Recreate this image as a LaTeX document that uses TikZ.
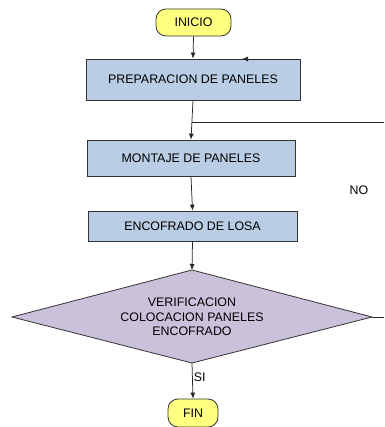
\documentclass[tikz,border=0pt]{standalone}
\usepackage{fontspec}
\setmainfont{Liberation Sans}
\usetikzlibrary{arrows.meta,shapes.geometric}
\definecolor{boxfill}{HTML}{B9CDE5}
\definecolor{diafill}{HTML}{CCC1DA}
\definecolor{termfill}{HTML}{FFFF80}
\definecolor{edge}{HTML}{333333}
\begin{document}
\begin{tikzpicture}[x=1pt,y=-1pt,
  every node/.style={font=\fontsize{12.4}{14.5}\selectfont, text=black, inner sep=0pt},
  term/.style={draw=edge, line width=0.8pt, fill=termfill, rounded corners=10pt, minimum height=27pt},
  procbox/.style={draw=edge, line width=0.8pt, fill=boxfill},
  decis/.style={draw=edge, line width=0.8pt, fill=diafill},
  conn/.style={draw=black!85, line width=0.75pt},
  arr/.style={conn, -{Latex[length=6pt,width=5pt]}}]
\useasboundingbox (0,0) rectangle (384,427);
\node[term, minimum width=75pt] (inicio) at (193.5,22.5) {INICIO};
\node[procbox, minimum width=214pt, minimum height=41pt] (prep) at (193,79.5) {PREPARACION DE PANELES};
\node[procbox, minimum width=208pt, minimum height=36pt] (mont) at (191,158) {MONTAJE DE PANELES};
\node[procbox, minimum width=209pt, minimum height=30pt] (enc) at (192.5,226) {ENCOFRADO DE LOSA};
\coordinate (vtop) at (192,270);
\coordinate (vright) at (372,317);
\coordinate (vbot) at (192,363);
\coordinate (vleft) at (12,317);
\draw[decis] (vtop) -- (vright) -- (vbot) -- (vleft) -- cycle;
\node[align=center] (ver) at (192,317) {VERIFICACION\\COLOCACION PANELES\\ENCOFRADO};
\node[term, minimum width=50pt, minimum height=28pt] (fin) at (193,413) {FIN};
\node[anchor=center] (no) at (359,190) {NO};
\coordinate (j) at (192,122);
\coordinate (noback) at (384,122);
\coordinate (noout) at (384,317);
\coordinate (topin) at (300,59);
\coordinate (topend) at (242,59);
\draw[arr] (inicio.south) -- (prep.north);
\draw[arr] (prep.south) -- (mont.north);
\draw[conn] (noback) -- (j);
\draw[arr] (topin) -- (topend);
\draw[arr] (mont.south) -- (enc.north);
\draw[arr] (enc.south) -- (vtop);
\draw[conn] (vright) -- (noout);
\draw[arr] (vbot) -- node[pos=0.4, right=1pt] (si) {SI} (fin.north);
\end{tikzpicture}
\end{document}
